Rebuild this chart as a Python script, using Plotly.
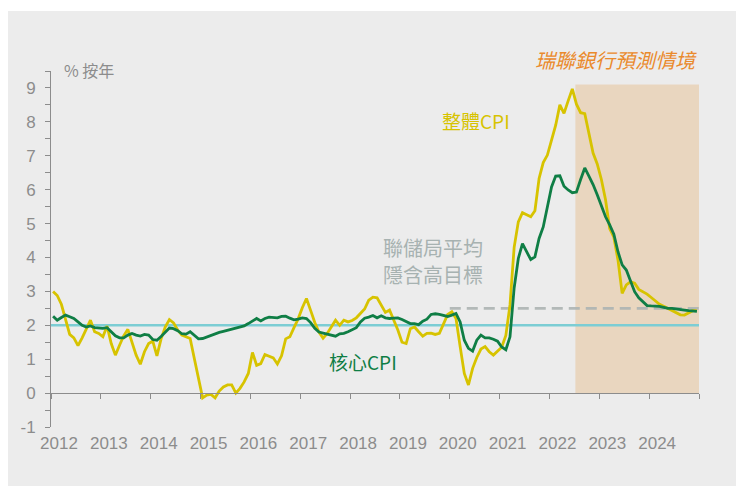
import plotly.graph_objects as go

# ---------------- data (monthly, Jan 2012 - Dec 2024) ----------------
start_year = 2012
headline_cpi = [
    3.0, 2.88, 2.62, 2.2, 1.73, 1.63, 1.4, 1.63, 1.9, 2.15, 1.81, 1.76,        # 2012
    1.66, 1.98, 1.46, 1.12, 1.41, 1.69, 1.88, 1.53, 1.12, 0.85, 1.22, 1.46,   # 2013
    1.53, 1.1, 1.6, 1.95, 2.17, 2.07, 1.86, 1.71, 1.66, 1.61, 1.02, 0.4,      # 2014
    -0.14, -0.06, -0.04, -0.14, 0.06, 0.18, 0.24, 0.24, 0.0, 0.14, 0.33, 0.58,  # 2015
    1.2, 0.82, 0.87, 1.14, 1.08, 1.04, 0.86, 1.1, 1.6, 1.66, 1.93, 2.19,      # 2016
    2.52, 2.79, 2.44, 2.08, 1.8, 1.62, 1.76, 1.95, 2.15, 2.0, 2.15, 2.1,      # 2017
    2.14, 2.22, 2.35, 2.48, 2.74, 2.83, 2.81, 2.6, 2.38, 2.45, 2.17, 1.86,    # 2018
    1.5, 1.46, 1.9, 1.95, 1.81, 1.68, 1.76, 1.77, 1.73, 1.76, 2.04, 2.32,     # 2019
    2.4, 2.2, 1.37, 0.58, 0.24, 0.73, 1.05, 1.3, 1.37, 1.22, 1.12, 1.25,      # 2020
    1.35, 1.7, 2.6, 4.3, 5.05, 5.32, 5.25, 5.2, 5.38, 6.33, 6.8, 7.02,        # 2021
    7.46, 7.9, 8.5, 8.25, 8.62, 8.97, 8.52, 8.27, 8.24, 7.68, 7.08, 6.76,     # 2022
    6.3, 5.7, 4.85, 4.6, 3.92, 2.94, 3.19, 3.28, 3.24, 3.06, 3.0, 2.92,       # 2023
    2.82, 2.71, 2.62, 2.56, 2.5, 2.45, 2.37, 2.31, 2.3, 2.37, 2.43, 2.43,     # 2024
]
core_cpi = [
    2.27, 2.15, 2.23, 2.3, 2.25, 2.2, 2.1, 2.0, 1.95, 1.98, 1.93, 1.91,       # 2012
    1.91, 1.93, 1.81, 1.69, 1.63, 1.63, 1.71, 1.76, 1.71, 1.68, 1.73, 1.71,   # 2013
    1.58, 1.56, 1.67, 1.81, 1.92, 1.9, 1.84, 1.75, 1.74, 1.81, 1.69, 1.6,     # 2014
    1.61, 1.66, 1.71, 1.75, 1.79, 1.82, 1.85, 1.87, 1.9, 1.93, 1.98, 2.05,    # 2015
    2.12, 2.2, 2.13, 2.2, 2.24, 2.24, 2.22, 2.26, 2.27, 2.21, 2.16, 2.18,     # 2016
    2.22, 2.2, 2.08, 1.91, 1.8, 1.77, 1.74, 1.71, 1.68, 1.75, 1.76, 1.81,     # 2017
    1.87, 1.93, 2.1, 2.21, 2.24, 2.29, 2.22, 2.28, 2.22, 2.2, 2.21, 2.22,     # 2018
    2.17, 2.1, 2.05, 2.05, 2.02, 2.12, 2.18, 2.32, 2.34, 2.32, 2.3, 2.26,     # 2019
    2.3, 2.35, 2.1, 1.56, 1.32, 1.24, 1.56, 1.71, 1.63, 1.63, 1.59, 1.53,     # 2020
    1.36, 1.28, 1.66, 3.1, 3.97, 4.41, 4.17, 3.94, 4.02, 4.56, 4.9, 5.52,     # 2021
    6.08, 6.4, 6.41, 6.1, 5.99, 5.91, 5.93, 6.3, 6.64, 6.4, 6.15, 5.85,       # 2022
    5.5, 5.2, 4.96, 4.69, 4.17, 3.78, 3.63, 3.31, 2.99, 2.81, 2.7, 2.58,      # 2023
    2.57, 2.57, 2.56, 2.53, 2.5, 2.5, 2.49, 2.47, 2.45, 2.43, 2.42, 2.41,     # 2024
]
fed_target = 2.0
fed_avg_target = 2.5
fed_avg_start = 2020.0
forecast_start = 2022.52
forecast_end = 2025.0
forecast_top = 9.1

year_ticks = list(range(2012, 2026))
year_labels = [str(y) for y in range(2012, 2025)]
y_ticks = [v / 2 for v in range(-2, 20)]
y_labels = [str(int(v)) if v == int(v) else "" for v in y_ticks]

months = [start_year + (i + 0.5) / 12 for i in range(len(headline_cpi))]

# ---------------- style ----------------
YELLOW = "#d7c300"
GREEN = "#0f7e45"
CYAN = "#7ccdd4"
DASHGRAY = "#adb4b3"
TAN = "#e9d6bf"
ORANGE = "#ea8a2c"
NOTEGRAY = "#a7b2b1"
AXGRAY = "#8c8c8c"
BG = "#ececec"
LAT = "Liberation Sans, Arial, sans-serif"
CJK = "Noto Sans CJK TC, Liberation Sans, sans-serif"

fig = go.Figure()

fig.add_trace(go.Scatter(x=[year_ticks[0], year_ticks[-1]], y=[fed_target, fed_target],
                         mode="lines", line=dict(color=CYAN, width=2.6),
                         hoverinfo="skip", showlegend=False))
fig.add_trace(go.Scatter(x=[fed_avg_start, forecast_end], y=[fed_avg_target, fed_avg_target],
                         mode="lines", line=dict(color=DASHGRAY, width=2.6, dash="11px,6px"),
                         opacity=0.9, hoverinfo="skip", showlegend=False))
fig.add_trace(go.Scatter(x=months, y=headline_cpi, mode="lines",
                         line=dict(color=YELLOW, width=2.8), name="整體CPI", showlegend=False))
fig.add_trace(go.Scatter(x=months, y=core_cpi, mode="lines",
                         line=dict(color=GREEN, width=2.8), name="核心CPI", showlegend=False))
# dummy trace to keep the zero-line tick axis alive
fig.add_trace(go.Scatter(x=[year_ticks[0], year_ticks[-1]], y=[None, None], xaxis="x2",
                         mode="lines", hoverinfo="skip", showlegend=False))

y_min, y_max = -1, 9.5
zero_pos = (0 - y_min) / (y_max - y_min)

fig.update_layout(
    width=744, height=486,
    margin=dict(l=43, r=53, t=63, b=67),
    paper_bgcolor=BG, plot_bgcolor=BG,
    font=dict(family=LAT, color=AXGRAY, size=16),
    xaxis=dict(range=[year_ticks[0], year_ticks[-1]], tickmode="array",
               tickvals=year_ticks[:-1], ticktext=year_labels, ticks="",
               showline=False, showgrid=False, zeroline=False,
               ticklabelshift=8, ticklabelstandoff=4,
               tickfont=dict(family=LAT, size=17, color=AXGRAY)),
    xaxis2=dict(range=[year_ticks[0], year_ticks[-1]], overlaying="x", anchor="free",
                position=zero_pos, side="bottom", tickmode="array", tickvals=year_ticks,
                ticks="outside", ticklen=5, tickcolor=AXGRAY, tickwidth=1,
                showticklabels=False, showline=True, linecolor=AXGRAY, linewidth=1,
                showgrid=False, zeroline=False),
    yaxis=dict(range=[y_min, y_max], tickmode="array", tickvals=y_ticks, ticktext=y_labels,
               ticks="outside", ticklen=5, tickcolor=AXGRAY, tickwidth=1,
               showline=True, linecolor=AXGRAY, linewidth=1,
               showgrid=False, zeroline=False, ticklabelstandoff=6,
               tickfont=dict(family=LAT, size=17, color=AXGRAY)),
    showlegend=False,
)

# forecast shading
fig.add_shape(type="rect", xref="x", yref="y", x0=forecast_start, x1=forecast_end,
              y0=0, y1=forecast_top, fillcolor=TAN, line=dict(width=0), layer="below")
# thin white strip at the very top of the panel
fig.add_shape(type="rect", xref="paper", yref="paper", x0=-0.2, x1=1.2,
              y0=1.1685, y1=1.3, fillcolor="white", line=dict(width=0), layer="above")

fig.add_annotation(text="% 按年", x=0.017, y=1.003, xref="paper", yref="paper",
                   xanchor="left", yanchor="middle", showarrow=False,
                   font=dict(family=CJK, size=16, color=AXGRAY))
fig.add_annotation(text="瑞聯銀行預測情境", x=0.872, y=1.031, xref="paper", yref="paper",
                   xanchor="center", yanchor="middle", showarrow=False,
                   font=dict(family=CJK, size=20, color=ORANGE, style="italic"))
fig.add_annotation(text="整體CPI", x=2019.8, y=8.05, xref="x", yref="y",
                   xanchor="left", yanchor="middle", showarrow=False,
                   font=dict(family=CJK, size=19, color=YELLOW))
fig.add_annotation(text="核心CPI", x=2017.53, y=0.94, xref="x", yref="y",
                   xanchor="left", yanchor="middle", showarrow=False,
                   font=dict(family=CJK, size=19, color=GREEN))
fig.add_annotation(text="聯儲局平均", x=2018.63, y=4.29, xref="x", yref="y",
                   xanchor="left", yanchor="middle", showarrow=False,
                   font=dict(family=CJK, size=20, color=NOTEGRAY))
fig.add_annotation(text="隱含高目標", x=2018.63, y=3.51, xref="x", yref="y",
                   xanchor="left", yanchor="middle", showarrow=False,
                   font=dict(family=CJK, size=20, color=NOTEGRAY))

fig.write_html("out.html")
